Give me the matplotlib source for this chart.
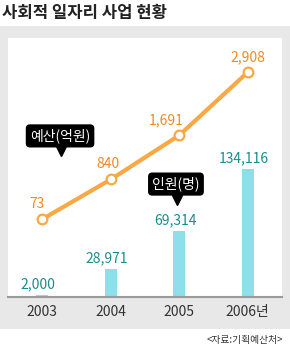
"""Social jobs programme: budget line over headcount bars."""
import matplotlib
matplotlib.use("Agg")
import matplotlib.pyplot as plt
from matplotlib.patches import Rectangle

plt.rcParams["font.family"] = ["Noto Sans CJK KR", "DejaVu Sans"]

years = ["2003", "2004", "2005", "2006년"]
budget = [73, 840, 1691, 2908]          # 억원
people = [2000, 28971, 69314, 134116]   # 명
budget_labels = ["73", "840", "1,691", "2,908"]
people_labels = ["2,000", "28,971", "69,314", "134,116"]

ORANGE = "#f9a843"
ORANGE_TXT = "#f08a24"
TEAL_TXT = "#1b8c8c"
BAR = "#8ddfea"
PANEL = "#e8e8e8"

W, H = 290, 349
fig = plt.figure(figsize=(W / 100, H / 100), dpi=100)

# gray panel behind the chart
fig.patches.append(Rectangle((0, 20 / H), 1, 303 / H, transform=fig.transFigure,
                             facecolor=PANEL, edgecolor="none", zorder=-10))

ax = fig.add_axes([8 / W, 52 / H, 274 / W, 259 / H])
ax.set_facecolor("white")
x = list(range(len(years)))

ax.bar(x, people, width=0.18, color=BAR, zorder=2)
ax.set_ylim(0, 271400)
ax.set_xlim(-0.5, 3.5)
for xi, v, lab in zip(x, people, people_labels):
    ax.annotate(lab, (xi, v), xytext=(-4, 4), textcoords="offset pixels",
                ha="center", va="bottom", fontsize=10, color=TEAL_TXT)

for s in ["left", "right", "top"]:
    ax.spines[s].set_visible(False)
ax.spines["bottom"].set_color("#9a9a9a")
ax.spines["bottom"].set_linewidth(1.5)
ax.set_yticks([])
ax.set_xticks(x)
ax.set_xticklabels(years, fontsize=10, color="#333333")
ax.tick_params(axis="x", length=0, pad=6)

ax2 = ax.twinx()
ax2.set_ylim(-1427, 3568)
ax2.plot(x, budget, color=ORANGE, lw=3, zorder=3, solid_capstyle="round",
         marker="o", ms=7, mfc="white", mec=ORANGE, mew=1.6)
shifts = [-5, -3, -13, 0]
for xi, v, lab, dx in zip(x, budget, budget_labels, shifts):
    ax2.annotate(lab, (xi, v), xytext=(dx, 8), textcoords="offset pixels",
                 ha="center", va="bottom", fontsize=10, color=ORANGE_TXT)
ax2.axis("off")

# callout tags
for (tx, ty), txt in [((0.19, 0.622), "예산(억원)"), ((0.613, 0.436), "인원(명)")]:
    ax2.text(tx, ty, txt, transform=ax2.transAxes, ha="center", va="center",
             fontsize=10, color="white", zorder=5,
             bbox=dict(boxstyle="round,pad=0.3,rounding_size=0.3", fc="black", ec="none"))
    ax2.plot([tx + 0.005], [ty - 0.06], marker="v", ms=7, color="black",
             transform=ax2.transAxes, zorder=5, clip_on=False)

fig.text(2 / W, 1 - 13 / H, "사회적 일자리 사업 현황", fontsize=12, fontweight="bold",
         color="#222222", ha="left", va="center")
fig.text(283 / W, 1 - 340 / H, "<자료:기획예산처>", fontsize=7, color="#333333",
         ha="right", va="center")

fig.savefig("out.png", dpi=100)
